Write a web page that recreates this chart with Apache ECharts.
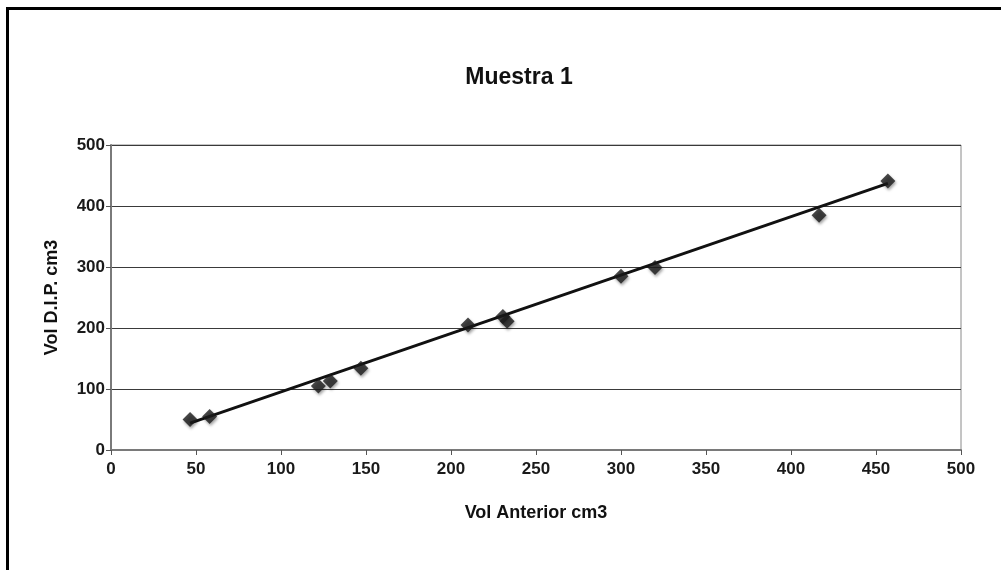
<!DOCTYPE html>
<html>
<head>
<meta charset="utf-8">
<script src="https://cdn.jsdelivr.net/npm/echarts@6/dist/echarts.min.js"></script>
<style>
  html, body { margin: 0; padding: 0; background: #fff; }
  #frame { position: absolute; left: 6px; top: 7px; width: 995px; height: 563px;
           border-left: 3px solid #000; border-top: 3px solid #000; box-sizing: border-box; }
  #chart { position: absolute; left: 0; top: 0; width: 1001px; height: 570px; }
</style>
</head>
<body>
<div id="frame"></div>
<div id="chart"></div>
<script>
// Data
const volAnterior = [46.5, 58, 122, 129, 147, 210, 230.5, 233, 300, 320, 416.5, 457];
const volDIP      = [50, 55, 105, 113, 134, 205, 219, 211, 285, 299, 385, 441];
// Trendline endpoints
const trendX = [46.5, 457];
const trendY = [44, 437];
const xTicks = [0, 50, 100, 150, 200, 250, 300, 350, 400, 450, 500];
const yTicks = [0, 100, 200, 300, 400, 500];

const points = volAnterior.map((x, i) => [x, volDIP[i]]);
const trend = trendX.map((x, i) => [x, trendY[i]]);

const FONT = 'Liberation Sans, Arial, sans-serif';
const chart = echarts.init(document.getElementById('chart'), null, { renderer: 'canvas' });
chart.setOption({
  backgroundColor: 'transparent',
  animation: false,
  title: {
    text: 'Muestra 1',
    left: 514, top: 61, textAlign: 'center',
    textStyle: { fontFamily: FONT, fontWeight: 'bold', fontSize: 23, color: '#111' }
  },
  grid: {
    left: 111, right: 40, top: 145, bottom: 120,
    show: true, borderColor: '#8a8a8a', borderWidth: 1, backgroundColor: 'transparent'
  },
  xAxis: {
    type: 'value', min: 0, max: 500, interval: 50,
    name: 'Vol Anterior cm3', nameLocation: 'middle', nameGap: 54,
    nameTextStyle: { fontFamily: FONT, fontWeight: 'bold', fontSize: 18, color: '#111' },
    axisLine: { lineStyle: { color: '#7a7a7a', width: 2 } },
    axisTick: { show: true, length: 5, inside: false, lineStyle: { color: '#555' } },
    axisLabel: { fontFamily: FONT, fontSize: 17, fontWeight: 'bold', color: '#1a1a1a', margin: 11,
                 formatter: v => xTicks.includes(v) ? String(v) : '' },
    splitLine: { show: false }
  },
  yAxis: {
    type: 'value', min: 0, max: 500, interval: 100,
    name: 'Vol D.I.P. cm3', nameLocation: 'middle', nameGap: 50, nameRotate: 90,
    nameTextStyle: { fontFamily: FONT, fontWeight: 'bold', fontSize: 18, color: '#111' },
    axisLine: { show: true, lineStyle: { color: '#7a7a7a', width: 2 } },
    axisTick: { show: true, length: 5, lineStyle: { color: '#555' } },
    axisLabel: { fontFamily: FONT, fontSize: 17, fontWeight: 'bold', color: '#1a1a1a', margin: 6,
                 formatter: v => yTicks.includes(v) ? String(v) : '' },
    splitLine: { show: true, lineStyle: { color: '#3a3a3a', width: 1 } }
  },
  series: [
    {
      type: 'line', data: trend, symbol: 'none', z: 3,
      lineStyle: { color: '#111', width: 3 }
    },
    {
      type: 'scatter', data: points, symbol: 'diamond', symbolSize: 15, z: 4,
      itemStyle: { color: '#1a1a1a', shadowColor: 'rgba(0,0,0,0.45)', shadowBlur: 3,
                   shadowOffsetX: 1, shadowOffsetY: 2 }
    }
  ]
});
</script>
</body>
</html>
